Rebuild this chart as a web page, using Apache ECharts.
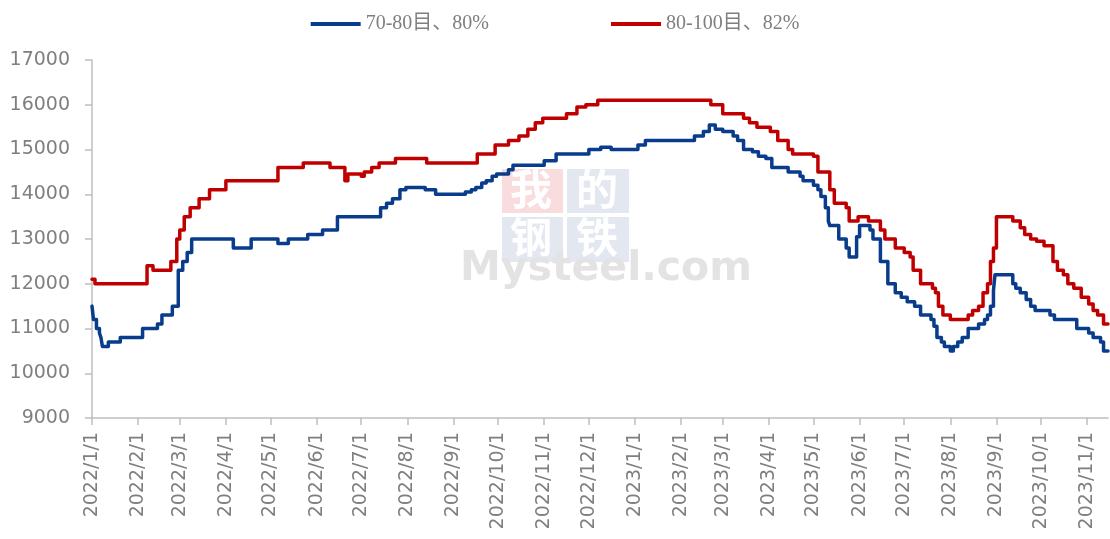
<!DOCTYPE html>
<html>
<head>
<meta charset="utf-8">
<script src="https://cdn.jsdelivr.net/npm/echarts@6/dist/echarts.min.js"></script>
<style>
    html, body { margin: 0; padding: 0; background: #fff; }
    #chart_con { width: 1110px; height: 539px; }
</style>
</head>
<body>
<div id="chart_con"></div>
<script>
// series names
const names = ['70-80目、80%', '80-100目、82%'];
const colors = ['#0a3c8c', '#c00000'];

// price change points [date, price], each price holds until the next point
const mesh7080 = [
    ['2022-01-01', 11500], ['2022-01-02', 11200], ['2022-01-04', 11000], ['2022-01-06', 10900],
    ['2022-01-07', 10800], ['2022-01-08', 10600], ['2022-01-12', 10700], ['2022-01-20', 10800],
    ['2022-02-04', 11000], ['2022-02-14', 11100], ['2022-02-17', 11300], ['2022-02-24', 11500],
    ['2022-02-28', 12300], ['2022-03-03', 12500], ['2022-03-06', 12700], ['2022-03-09', 13000],
    ['2022-04-06', 12800], ['2022-04-18', 13000], ['2022-05-06', 12900], ['2022-05-13', 13000],
    ['2022-05-26', 13100], ['2022-06-05', 13200], ['2022-06-15', 13500], ['2022-07-14', 13700],
    ['2022-07-18', 13800], ['2022-07-22', 13900], ['2022-07-27', 14100], ['2022-07-31', 14150],
    ['2022-08-13', 14100], ['2022-08-20', 14000], ['2022-09-09', 14050], ['2022-09-13', 14100],
    ['2022-09-16', 14150], ['2022-09-20', 14250], ['2022-09-23', 14300], ['2022-09-27', 14400],
    ['2022-09-30', 14450], ['2022-10-08', 14550], ['2022-10-11', 14650], ['2022-11-01', 14750],
    ['2022-11-09', 14900], ['2022-12-01', 15000], ['2022-12-09', 15050], ['2022-12-16', 15000],
    ['2023-01-03', 15100], ['2023-01-08', 15200], ['2023-02-10', 15300], ['2023-02-16', 15400],
    ['2023-02-20', 15550], ['2023-02-24', 15450], ['2023-03-01', 15400], ['2023-03-08', 15300],
    ['2023-03-11', 15200], ['2023-03-15', 15000], ['2023-03-21', 14950], ['2023-03-25', 14850],
    ['2023-03-30', 14800], ['2023-04-03', 14600], ['2023-04-14', 14500], ['2023-04-22', 14400],
    ['2023-04-24', 14300], ['2023-05-01', 14200], ['2023-05-04', 14100], ['2023-05-06', 13950],
    ['2023-05-09', 13700], ['2023-05-11', 13400], ['2023-05-12', 13300], ['2023-05-18', 13000],
    ['2023-05-23', 12800], ['2023-05-25', 12600], ['2023-05-30', 13050], ['2023-06-01', 13300],
    ['2023-06-08', 13200], ['2023-06-10', 13000], ['2023-06-15', 12500], ['2023-06-20', 12000],
    ['2023-06-25', 11800], ['2023-06-29', 11700], ['2023-07-03', 11600], ['2023-07-08', 11500],
    ['2023-07-12', 11300], ['2023-07-19', 11200], ['2023-07-21', 11050], ['2023-07-23', 10800],
    ['2023-07-26', 10700], ['2023-07-28', 10600], ['2023-08-01', 10500], ['2023-08-03', 10600],
    ['2023-08-06', 10700], ['2023-08-09', 10800], ['2023-08-13', 11000], ['2023-08-20', 11100],
    ['2023-08-24', 11200], ['2023-08-26', 11300], ['2023-08-28', 11500], ['2023-08-30', 11850],
    ['2023-08-31', 12200], ['2023-09-12', 12000], ['2023-09-14', 11900], ['2023-09-17', 11800],
    ['2023-09-21', 11650], ['2023-09-24', 11500], ['2023-09-27', 11400], ['2023-10-07', 11300],
    ['2023-10-10', 11200], ['2023-10-25', 11000], ['2023-11-02', 10900], ['2023-11-05', 10800],
    ['2023-11-10', 10700], ['2023-11-12', 10500], ['2023-11-15', 10500]
];

const mesh80100 = [
    ['2022-01-01', 12100], ['2022-01-03', 12000], ['2022-02-07', 12400], ['2022-02-11', 12300],
    ['2022-02-23', 12500], ['2022-02-27', 13000], ['2022-03-01', 13200], ['2022-03-04', 13500],
    ['2022-03-08', 13700], ['2022-03-14', 13900], ['2022-03-21', 14100], ['2022-04-01', 14300],
    ['2022-05-06', 14600], ['2022-05-23', 14700], ['2022-06-10', 14600], ['2022-06-20', 14300],
    ['2022-06-22', 14450], ['2022-07-01', 14400], ['2022-07-03', 14500], ['2022-07-08', 14600],
    ['2022-07-13', 14700], ['2022-07-24', 14800], ['2022-08-14', 14700], ['2022-09-17', 14900],
    ['2022-09-29', 15100], ['2022-10-08', 15200], ['2022-10-15', 15300], ['2022-10-21', 15450],
    ['2022-10-26', 15600], ['2022-10-31', 15700], ['2022-11-16', 15800], ['2022-11-23', 15950],
    ['2022-11-29', 16000], ['2022-12-07', 16100], ['2023-02-21', 16000], ['2023-03-01', 15800],
    ['2023-03-15', 15700], ['2023-03-19', 15600], ['2023-03-24', 15500], ['2023-04-02', 15400],
    ['2023-04-07', 15200], ['2023-04-14', 15000], ['2023-04-17', 14900], ['2023-05-01', 14850],
    ['2023-05-04', 14500], ['2023-05-12', 14100], ['2023-05-15', 13800], ['2023-05-23', 13700],
    ['2023-05-25', 13400], ['2023-05-31', 13500], ['2023-06-07', 13400], ['2023-06-15', 13200],
    ['2023-06-18', 13000], ['2023-06-25', 12800], ['2023-07-01', 12700], ['2023-07-05', 12600],
    ['2023-07-07', 12300], ['2023-07-12', 12000], ['2023-07-20', 11900], ['2023-07-22', 11800],
    ['2023-07-24', 11500], ['2023-07-27', 11300], ['2023-08-01', 11200], ['2023-08-13', 11300],
    ['2023-08-16', 11400], ['2023-08-20', 11500], ['2023-08-23', 11800], ['2023-08-26', 12000],
    ['2023-08-28', 12500], ['2023-08-30', 12800], ['2023-09-01', 13500], ['2023-09-12', 13400],
    ['2023-09-17', 13250], ['2023-09-20', 13100], ['2023-09-24', 13000], ['2023-09-28', 12950],
    ['2023-10-03', 12850], ['2023-10-09', 12500], ['2023-10-12', 12300], ['2023-10-16', 12200],
    ['2023-10-19', 12000], ['2023-10-23', 11900], ['2023-10-28', 11700], ['2023-11-02', 11550],
    ['2023-11-05', 11400], ['2023-11-08', 11300], ['2023-11-12', 11100], ['2023-11-15', 11100]
];

const DAY = 24 * 3600 * 1000;
const axisGray = '#bfbfbf';
const textGray = '#7f7f7f';

var chart = echarts.init(document.getElementById('chart_con'));
const option = {
    animation: false,
    color: colors,
    legend: {
        left: 'center',
        top: 9,
        icon: 'rect',
        itemWidth: 50,
        itemHeight: 4,
        itemGap: 122,
        textStyle: { color: textGray, fontSize: 20, fontFamily: 'Liberation Serif, Noto Sans CJK SC' },
        data: names
    },
    grid: { left: 92, right: 2, top: 60, bottom: 121 },
    graphic: [
        { type: 'rect', z: -1, shape: { x: 502, y: 169, width: 61, height: 44 }, style: { fill: '#f9dcdd' } },
        { type: 'rect', z: -1, shape: { x: 567, y: 169, width: 62, height: 44 }, style: { fill: '#e2e7f0' } },
        { type: 'rect', z: -1, shape: { x: 502, y: 217, width: 61, height: 45 }, style: { fill: '#e2e7f0' } },
        { type: 'rect', z: -1, shape: { x: 567, y: 217, width: 62, height: 45 }, style: { fill: '#e2e7f0' } },
        { type: 'text', z: -1, left: 510, top: 168, style: { text: '我', fill: '#fff', font: 'bold 42px "Noto Sans CJK SC"' } },
        { type: 'text', z: -1, left: 576, top: 168, style: { text: '的', fill: '#fff', font: 'bold 42px "Noto Sans CJK SC"' } },
        { type: 'text', z: -1, left: 510, top: 216, style: { text: '钢', fill: '#fff', font: 'bold 42px "Noto Sans CJK SC"' } },
        { type: 'text', z: -1, left: 576, top: 216, style: { text: '铁', fill: '#fff', font: 'bold 42px "Noto Sans CJK SC"' } },
        { type: 'text', z: -1, left: 460, top: 249, style: { text: 'Mysteel.com', fill: '#e3e3e3', font: 'bold 41px "DejaVu Sans"' } }
    ],
    xAxis: {
        type: 'time',
        min: '2022-01-01',
        max: '2023-11-15',
        splitNumber: 23,
        minInterval: 28 * DAY,
        maxInterval: 31 * DAY,
        axisLine: { lineStyle: { color: axisGray, width: 1.5 } },
        axisTick: { show: true, length: 7, lineStyle: { color: axisGray, width: 1.5 } },
        splitLine: { show: false },
        axisLabel: {
            rotate: 90,
            margin: 14,
            color: textGray,
            fontSize: 19,
            fontFamily: 'DejaVu Sans',
            hideOverlap: false,
            formatter: function (val) {
                const d = new Date(val);
                return d.getFullYear() + '/' + (d.getMonth() + 1) + '/' + d.getDate();
            }
        }
    },
    yAxis: {
        type: 'value',
        min: 9000,
        max: 17000,
        interval: 1000,
        axisLine: { show: true, lineStyle: { color: axisGray, width: 1.5 } },
        axisTick: { show: true, length: 7, lineStyle: { color: axisGray, width: 1.5 } },
        splitLine: { show: false },
        axisLabel: {
            margin: 22,
            color: textGray,
            fontSize: 19,
            fontFamily: 'DejaVu Sans',
            formatter: function (v) { return String(v); }
        }
    },
    series: [
        {
            name: names[0],
            type: 'line',
            step: 'end',
            showSymbol: false,
            data: mesh7080,
            lineStyle: { width: 3.5, color: colors[0], join: 'round', cap: 'round' }
        },
        {
            name: names[1],
            type: 'line',
            step: 'end',
            showSymbol: false,
            data: mesh80100,
            lineStyle: { width: 3.5, color: colors[1], join: 'round', cap: 'round' }
        }
    ]
};
chart.setOption(option);
</script>
</body>
</html>
